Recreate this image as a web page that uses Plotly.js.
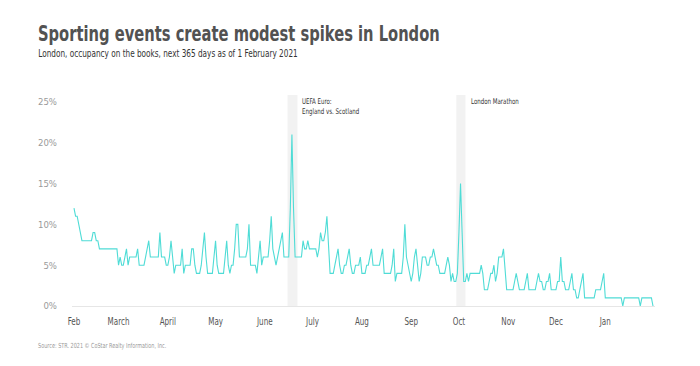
<!DOCTYPE html>
<html>
<head>
<meta charset="utf-8">
<script src="https://cdn.plot.ly/plotly-3.0.1.min.js"></script>
<style>html,body{margin:0;padding:0;background:#fff;}#chart{width:700px;height:366px;}</style>
</head>
<body>
<div id="chart"></div>
<script>
// ---- data ----
const startDate = '2021-02-01';
// daily occupancy on the books (%), 1 Feb 2021 – 31 Jan 2022, one row per week (Mon–Sun)
const occupancy = [
  12, 11, 11, 10, 9, 8, 8,
  8, 8, 8, 8, 8, 9, 9,
  8, 8, 7, 7, 7, 7, 7,
  7, 7, 7, 7, 7, 7, 7,
  5, 6, 5, 5, 6, 7, 5,
  6, 6, 6, 6, 6, 7, 5,
  5, 5, 5, 6, 7, 8, 6,
  6, 6, 6, 6, 6, 9, 6,
  6, 6, 5, 5, 6, 8, 6,
  4, 5, 5, 5, 5, 7, 4,
  5, 5, 5, 5, 7, 7, 5,
  4, 4, 4, 5, 7, 9, 6,
  4, 4, 4, 4, 6, 8, 5,
  4, 4, 4, 4, 6, 8, 5,
  4, 5, 5, 7, 10, 10, 6,
  6, 6, 6, 6, 7, 10, 5,
  5, 5, 5, 4, 6, 8, 5,
  6, 6, 6, 6, 8, 11, 7,
  6, 5, 6, 7, 8, 9, 6,
  6, 6, 6, 12, 21, 12, 6,
  6, 6, 6, 6, 8, 7, 7,
  8, 7, 7, 7, 7, 7, 6,
  7, 9, 8, 8, 9, 11, 7,
  4, 4, 4, 5, 6, 7, 5,
  4, 4, 5, 5, 6, 7, 5,
  4, 4, 5, 5, 5, 6, 4,
  4, 4, 5, 5, 6, 7, 5,
  5, 5, 5, 5, 6, 7, 4,
  4, 4, 4, 4, 5, 7, 3,
  4, 4, 4, 4, 6, 10, 6,
  5, 4, 3, 4, 6, 7, 5,
  3, 4, 6, 6, 6, 5, 5,
  6, 6, 7, 6, 5, 5, 4,
  4, 4, 4, 5, 6, 5, 3,
  4, 3, 3, 4, 9, 15, 9,
  3, 3, 4, 3, 4, 4, 4,
  4, 4, 4, 4, 5, 4, 2,
  2, 2, 3, 4, 4, 5, 3,
  4, 6, 6, 6, 7, 4, 2,
  2, 2, 2, 2, 3, 4, 3,
  2, 2, 2, 2, 3, 4, 2,
  2, 2, 2, 2, 3, 4, 3,
  3, 2, 2, 3, 3, 4, 2,
  2, 2, 2, 3, 3, 6, 3,
  3, 2, 2, 2, 3, 4, 2,
  2, 1, 1, 2, 3, 4, 1,
  1, 1, 1, 1, 1, 1, 2,
  2, 2, 2, 3, 4, 1, 1,
  1, 1, 1, 1, 1, 1, 1,
  1, 1, 0, 1, 1, 1, 1,
  1, 1, 1, 1, 1, 1, 0,
  1, 1, 1, 1, 1, 1, 1,
  0
];
const monthTicks = ['2021-02-01','2021-03-01','2021-04-01','2021-05-01','2021-06-01','2021-07-01','2021-08-01','2021-09-01','2021-10-01','2021-11-01','2021-12-01','2022-01-01'];
const monthLabels = ['Feb','March','April','May','June','July','Aug','Sep','Oct','Nov','Dec','Jan'];
const yTicks = [0, 5, 10, 15, 20, 25];
const events = [
  {label: 'UEFA Euro:<br>England vs. Scotland', from: '2021-06-15 06:00', to: '2021-06-21 12:00'},
  {label: 'London Marathon', from: '2021-09-29 08:00', to: '2021-10-05 02:00'}
];
const titleText = 'Sporting events create modest spikes in London';
const subtitleText = 'London, occupancy on the books, next 365 days as of 1 February 2021';
const sourceText = 'Source: STR. 2021 © CoStar Realty Information, Inc.';

// ---- build dates ----
const dates = [];
const d0 = new Date(startDate + 'T00:00:00Z');
for (let i = 0; i < occupancy.length; i++) {
  const d = new Date(d0.getTime() + i * 86400000);
  dates.push(d.toISOString().slice(0, 10));
}

const W = 700, H = 366;
const M = {l: 72, r: 45, t: 95, b: 60};
const PW = W - M.l - M.r, PH = H - M.t - M.b;
const px2paperX = x => (x - M.l) / PW;
const px2paperY = y => (H - M.b - y) / PH;

const FONT = '"DejaVu Sans Condensed", "DejaVu Sans", sans-serif';

const trace = {
  x: dates, y: occupancy, type: 'scatter', mode: 'lines',
  line: {color: '#4fdcd6', width: 1.1, shape: 'linear'},
  hoverinfo: 'x+y'
};

const shapes = events.map(e => ({
  type: 'rect', xref: 'x', yref: 'paper', x0: e.from, x1: e.to, y0: 0, y1: 1,
  fillcolor: '#f2f2f2', line: {width: 0}, layer: 'below'
}));

const annotations = [
  {text: subtitleText, xref: 'paper', yref: 'paper', x: px2paperX(36), y: px2paperY(53),
   xanchor: 'left', yanchor: 'middle', showarrow: false, font: {family: FONT, size: 10.5, color: '#333'}},
  {text: sourceText, xref: 'paper', yref: 'paper', x: px2paperX(36), y: px2paperY(346),
   xanchor: 'left', yanchor: 'middle', showarrow: false, font: {family: FONT, size: 7, color: '#9a9a9a'}},
  {text: events[0].label, xref: 'x', yref: 'paper', x: events[0].to, y: px2paperY(95),
   xanchor: 'left', yanchor: 'top', xshift: 3, align: 'left', showarrow: false,
   font: {family: FONT, size: 7.8, color: '#333'}},
  {text: events[1].label, xref: 'x', yref: 'paper', x: events[1].to, y: px2paperY(95),
   xanchor: 'left', yanchor: 'top', xshift: 4, align: 'left', showarrow: false,
   font: {family: FONT, size: 7.8, color: '#333'}}
];

const layout = {
  width: W, height: H,
  margin: M,
  paper_bgcolor: '#fff', plot_bgcolor: '#fff',
  showlegend: false,
  title: {text: titleText, x: 38 / W, xanchor: 'left', xref: 'container',
          y: 1 - 33 / H, yanchor: 'middle', yref: 'container',
          font: {family: FONT, size: 22, weight: 'bold', color: '#525252'}},
  xaxis: {
    type: 'date', range: ['2021-01-30 18:00', '2022-02-01 06:00'],
    tickvals: monthTicks, ticktext: monthLabels,
    showgrid: false, zeroline: false, showline: true, linecolor: '#e6e6e6', linewidth: 1,
    ticks: '', ticklabelstandoff: 5,
    tickfont: {family: FONT, size: 10.5, color: '#555'}
  },
  yaxis: {
    range: [0, 25.85], tickvals: yTicks, ticktext: yTicks.map(v => v + '%'),
    showgrid: false, zeroline: false, showline: false,
    ticks: '', ticklabelstandoff: 14,
    tickfont: {family: FONT, size: 9.5, color: '#9a9a9a'}
  },
  shapes: shapes,
  annotations: annotations
};

// horizontal condensing to emulate the narrow typeface of the original
function condense(el, s, mode) {
  const b = el.getBBox();
  const ax = mode === 'end' ? b.x + b.width : mode === 'middle' ? b.x + b.width / 2 : b.x;
  const tr = el.getAttribute('transform') || '';
  el.setAttribute('transform', tr + ' translate(' + ax + ',0) scale(' + s + ',1) translate(' + (-ax) + ',0)');
}
function fitWidth(el, target) {
  const b = el.getBBox();
  condense(el, target / b.width, 'start');
}

Plotly.newPlot('chart', [trace], layout, {displayModeBar: false, staticPlot: true}).then(gd => {
  const t = gd.querySelector('.gtitle');
  if (t) fitWidth(t, 402);
  gd.querySelectorAll('.xtick text').forEach(el => condense(el, 0.76, 'middle'));
  const ann = gd.querySelectorAll('.annotation-text');
  if (ann[0]) fitWidth(ann[0], 260);
  for (let i = 1; i < ann.length; i++) condense(ann[i], 0.78, 'start');
});
</script>
</body>
</html>
